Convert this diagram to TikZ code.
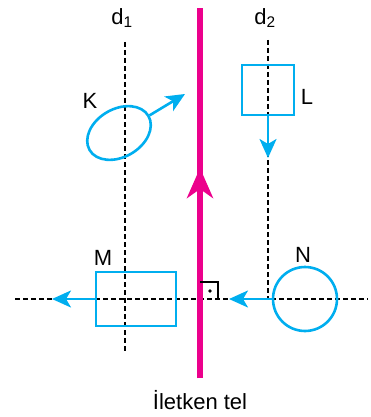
\documentclass[tikz,border=0pt]{standalone}
\usepackage{fontspec}
\setmainfont{Liberation Sans}
\usetikzlibrary{shapes.geometric, arrows.meta, positioning}
\definecolor{telpembe}{RGB}{236,0,140}
\definecolor{halkamavi}{RGB}{0,174,239}

\begin{document}
\begin{tikzpicture}[x=1pt, y=-1pt,
      halka/.style = {draw=halkamavi, line width=2.6pt, inner sep=0pt},
      hiz/.style = {draw=halkamavi, line width=2.6pt,
        -{Stealth[length=19pt, width=17pt, inset=5pt]}
      },
      eksen/.style = {black, line width=1.4pt, dash pattern=on 5pt off 3pt},
      tel/.style = {draw=telpembe, line width=5.5pt},
      yazi/.style = {font=\fontsize{22}{25}\selectfont, inner sep=0pt}
    ]
        \useasboundingbox (0,0) rectangle (371,417);

        % eksenler
        \coordinate (d1ust) at (125,42);
        \coordinate (d1alt) at (125,352);
        \coordinate (d2ust) at (268,40);
        \coordinate (d2alt) at (268,299);
        \coordinate (eksensol) at (15,299);
        \coordinate (eksensag) at (368,299);
        \draw[eksen] (d1ust) -- (d1alt);
        \draw[eksen] (d2ust) -- (d2alt);
        \draw[eksen] (eksensol) -- (eksensag);

        \node[yazi] (d1) at (122,18) {d\textsubscript{1}};
        \node[yazi] (d2) at (265,18) {d\textsubscript{2}};

        % halkalar
        \node[halka, ellipse, rotate=30, minimum width=68, minimum height=48] (K) at (119,133) {};
        \node[halka, rectangle, minimum width=52, minimum height=50] (L) at (268,90) {};
        \node[halka, rectangle, minimum width=80, minimum height=54] (M) at (136,299) {};
        \node[halka, circle, minimum size=64] (N) at (305,299) {};

        \node[yazi] (Kyazi) at (90,101) {K};
        \node[yazi] (Lyazi) at (307,97) {L};
        \node[yazi] (Myazi) at (103,258) {M};
        \node[yazi] (Nyazi) at (303,255) {N};

        % hiz vektorleri
        \coordinate (Kuc) at (185,94);
        \coordinate (Luc) at (268,158);
        \coordinate (Muc) at (52,299);
        \coordinate (Nuc) at (229,299);
        \draw[hiz] (K.east) -- (Kuc);
        \draw[hiz] (L.south) -- (Luc);
        \draw[hiz] (M.west) -- (Muc);
        \draw[hiz] (N.west) -- (Nuc);

        % iletken tel
        \coordinate (telust) at (200,8);
        \coordinate (telorta) at (200,168);
        \coordinate (telalt) at (200,378);
        \draw[tel] (telalt) -- (telust);
        \draw[tel, -{Stealth[length=30pt, width=26pt, inset=9pt]}] (telalt) -- (telorta);

        % dik isareti
        \coordinate (dik1) at (200,282);
        \coordinate (dik2) at (218,299);
        \draw[line width=1.1pt] (dik1) -| (dik2);
        \fill (210,291) circle (1.8);

        \node[yazi] (tel) at (200,400) {İletken tel};
\end{tikzpicture}
\end{document}
